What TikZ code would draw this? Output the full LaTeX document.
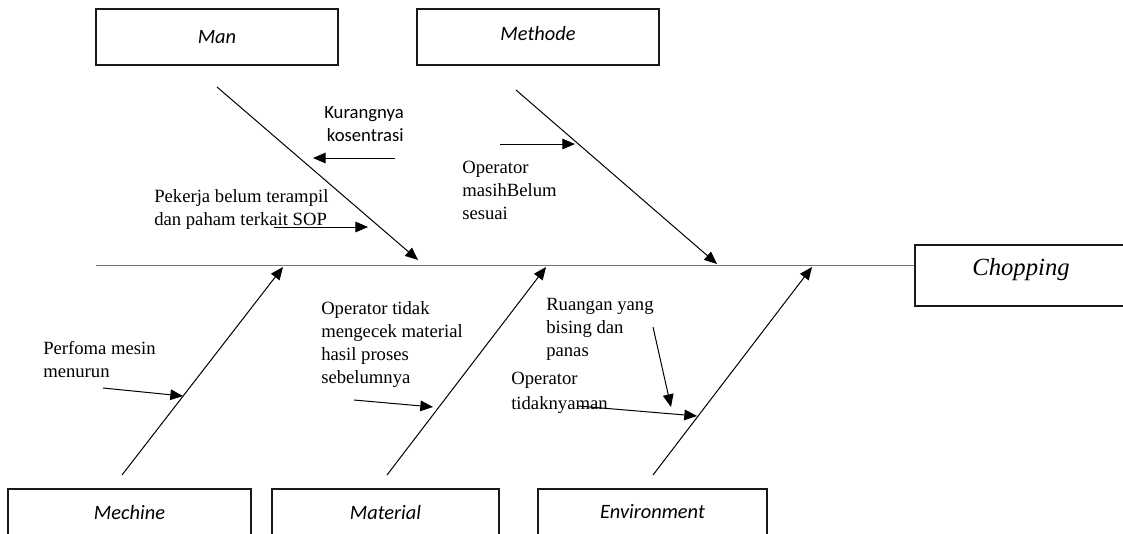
\documentclass[tikz,border=0pt]{standalone}
\usepackage{fontspec}
\setmainfont{Liberation Serif}
\newfontfamily\calib{Carlito}
\usetikzlibrary{arrows.meta}
\tikzset{
  catbox/.style={draw=black!90, line width=1.6pt, inner sep=0pt, fill=white},
  catlabel/.style={font=\calib\itshape\fontsize{15.3}{18}\selectfont, inner sep=0pt},
  causetext/.style={font=\fontsize{14}{17.25}\selectfont, inner sep=0pt, align=left},
  causesans/.style={font=\calib\fontsize{14}{17.25}\selectfont, inner sep=0pt, align=right},
  bone/.style={line width=0.75pt, -{Triangle[length=9.5pt,width=8pt]}},
  spine/.style={line width=1.1pt, draw=black!55},
}
\begin{document}
\begin{tikzpicture}[x=0.75pt,y=-0.75pt]
\useasboundingbox (0,0) rectangle (1123,533);
\begin{scope}
\clip (0,0) rectangle (1123,533);
% category boxes
\node[catbox, minimum width=242*0.75pt, minimum height=56*0.75pt] (manbox) at (217,37) {};
\node[catbox, minimum width=242*0.75pt, minimum height=56*0.75pt] (metbox) at (538,37) {};
\node[catbox, minimum width=243*0.75pt, minimum height=48*0.75pt] (mecbox) at (129.5,513) {};
\node[catbox, minimum width=227*0.75pt, minimum height=48*0.75pt] (matbox) at (385.5,513) {};
\node[catbox, minimum width=229*0.75pt, minimum height=48*0.75pt] (envbox) at (652.5,513) {};
\node[catbox, minimum width=240*0.75pt, minimum height=61*0.75pt] (chopbox) at (1035,275.5) {};
\end{scope}
\node[catlabel] (man) at (217,37) {Man};
\node[catlabel] (met) at (538,33) {Methode};
\node[catlabel] (mec) at (129.5,512) {Mechine};
\node[catlabel] (mat) at (385.5,512) {Material};
\node[catlabel] (env) at (652.5,512) {Environment};
\node[inner sep=0pt, font=\itshape\fontsize{18.5}{20}\selectfont] (chop) at (1021,270) {Chopping};

% spine
\coordinate (spinestart) at (96,265.5);
\draw[spine] (spinestart) -- (spinestart -| chopbox.west);

% bones
\coordinate (manA) at (217,87);   \coordinate (manB) at (418,260);
\coordinate (metA) at (516,90);   \coordinate (metB) at (717,264);
\coordinate (mecA) at (122,475);  \coordinate (mecB) at (283,267);
\coordinate (matA) at (387,475);  \coordinate (matB) at (546,267);
\coordinate (envA) at (653,475);  \coordinate (envB) at (812,267);
\draw[bone] (manA) -- (manB);
\draw[bone] (metA) -- (metB);
\draw[bone] (mecA) -- (mecB);
\draw[bone] (matA) -- (matB);
\draw[bone] (envA) -- (envB);

% cause texts
\node[causesans, anchor=north east] (kur) at (404,106) {Kurangnya\\kosentrasi};
\node[causetext, anchor=north west] (pek) at (154,189) {Pekerja belum terampil\\dan paham terkait SOP};
\node[causetext, anchor=north west] (opm) at (462,161) {Operator\\masihBelum\\sesuai};
\node[causetext, anchor=north west] (per) at (43,341) {Perfoma mesin\\menurun};
\node[causetext, anchor=north west] (opt) at (321,301) {Operator tidak\\mengecek material\\hasil proses\\sebelumnya};
\node[causetext, anchor=north west] (rua) at (546,298) {Ruangan yang\\bising dan\\panas};
\node[causetext, anchor=north west, font=\fontsize{14}{18.75}\selectfont] (opn) at (511,372) {Operator\\tidaknyaman};

% cause arrows
\coordinate (kurA) at (395,158); \coordinate (kurB) at (313,158);
\coordinate (pekA) at (274,227); \coordinate (pekB) at (368,227);
\coordinate (opmA) at (500,144); \coordinate (opmB) at (575,144);
\coordinate (perA) at (103,388); \coordinate (perB) at (183,396);
\coordinate (optA) at (354,400); \coordinate (optB) at (433,407);
\coordinate (ruaA) at (653,327); \coordinate (ruaB) at (671,407);
\coordinate (opnA) at (578,406); \coordinate (opnB) at (697,416);
\draw[bone] (kurA) -- (kurB);
\draw[bone] (pekA) -- (pekB);
\draw[bone] (opmA) -- (opmB);
\draw[bone] (perA) -- (perB);
\draw[bone] (optA) -- (optB);
\draw[bone] (ruaA) -- (ruaB);
\draw[bone] (opnA) -- (opnB);
\end{tikzpicture}
\end{document}
